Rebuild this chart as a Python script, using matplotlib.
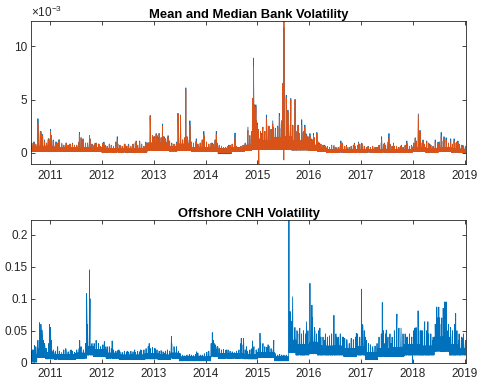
import matplotlib
matplotlib.use("Agg")
import matplotlib.pyplot as plt
import matplotlib.dates as mdates
import numpy as np
import pandas as pd

plt.rcParams["font.family"] = ["Liberation Sans", "DejaVu Sans"]

# ---------------------------------------------------------------- data
start_date = "2010-08-20"
end_date = "2019-01-11"

# Bank volatility (units of 1e-3): daily band (low / high) by period
bank_band_start = ["2010-08-01", "2011-02-01", "2011-07-01", "2011-10-01", "2012-01-01",
                   "2012-11-15", "2013-04-20", "2013-06-15", "2013-09-20", "2014-01-01",
                   "2014-04-01", "2014-07-01", "2014-10-01", "2014-11-20", "2015-01-15",
                   "2015-05-01", "2015-07-01", "2015-09-01", "2016-01-01", "2016-03-01",
                   "2016-05-01", "2018-01-01", "2018-04-01", "2018-07-01", "2018-10-01",
                   "2018-12-01"]
bank_median_lo = [0.10, 0.10, 0.10, 0.10, 0.05, 0.20, 0.15, 0.20, 0.10, 0.10,
                  0.00, 0.10, 0.20, 0.30, 0.30, 0.30, 0.30, 0.25, 0.20, 0.10,
                  0.05, 0.10, 0.05, 0.10, 0.05, 0.00]
bank_mean_lo = [0.10, 0.10, 0.10, 0.10, 0.05, 0.20, 0.15, 0.20, 0.10, 0.10,
                -0.10, 0.10, 0.20, 0.30, 0.30, 0.30, 0.30, 0.25, 0.20, 0.10,
                0.05, 0.10, 0.05, 0.10, 0.05, 0.00]
bank_band_hi = [0.60, 0.45, 0.50, 0.45, 0.40, 0.90, 0.55, 0.80, 0.50, 0.45,
                0.35, 0.45, 0.70, 1.30, 1.10, 1.40, 1.50, 1.10, 0.70, 0.45,
                0.30, 0.45, 0.35, 0.45, 0.35, 0.30]

# Bank volatility: highest value in each half-month (Aug 2010 .. Jan 2019)
bank_halfmonth_peak = [
    0.0, 0.9, 1.0, 0.8, 1.5, 2.0, 1.4, 1.1, 0.9, 1.3,
    1.6, 1.2, 1.0, 0.9, 1.2, 0.8, 0.7, 0.9, 0.7, 0.8, 0.9, 0.7,
    0.7, 1.0, 1.4, 1.2, 0.9, 0.9, 1.3, 0.8, 0.7, 0.9, 0.8, 0.6,
    0.9, 0.7, 0.6, 0.8, 0.7, 0.6, 1.0, 0.8, 0.7, 0.6, 0.8, 0.6,
    0.7, 0.6, 0.8, 0.9, 0.7, 0.6, 0.8, 0.6, 0.9, 0.8, 1.5, 1.6,
    1.5, 1.6, 1.8, 1.4, 1.5, 1.3, 1.4, 1.1, 0.9, 0.8, 0.9, 1.6,
    1.8, 1.2, 1.4, 1.5, 1.2, 1.0, 0.9, 1.0, 0.8, 0.9, 1.2, 1.5,
    1.0, 0.8, 0.9, 0.8, 1.2, 0.9, 0.7, 0.6, 0.5, 0.5, 0.6, 0.7,
    0.8, 0.9, 0.6, 0.5, 0.6, 0.7, 0.9, 1.2, 1.6, 2.0, 2.6, 3.0,
    2.2, 2.0, 2.4, 2.0, 2.3, 2.5, 2.2, 2.4, 2.5, 2.8, 2.6, 3.0,
    3.5, 3.0, 2.6, 3.0, 2.2, 2.4, 2.0, 1.8, 1.6, 2.0, 1.8, 1.5,
    1.5, 1.2, 1.4, 1.6, 1.0, 0.8, 0.7, 0.6, 0.6, 0.5, 0.7, 0.6,
    0.5, 0.5, 0.6, 0.9, 0.6, 0.5, 0.5, 0.6, 0.7, 0.6, 0.7, 0.8,
    0.8, 0.6, 0.5, 0.5, 0.5, 0.6, 0.5, 0.5, 0.7, 0.9, 0.8, 0.7,
    1.0, 0.8, 0.6, 0.6, 0.6, 0.5, 0.6, 0.5, 0.7, 0.8, 0.6, 0.6,
    0.9, 1.1, 1.5, 1.0, 0.9, 0.8, 0.8, 0.9, 0.7, 0.6, 0.9, 0.8,
    1.0, 1.1, 1.2, 1.0, 0.9, 0.8, 0.8, 0.9, 1.0, 0.8, 0.7, 0.6,
    0.6,
]

# Bank volatility spikes: date, mean, median (units of 1e-3)
bank_spike_dates = [
    "2010-09-13", "2010-10-08", "2010-10-29", "2010-11-10", "2010-11-24", "2010-12-20",
    "2011-01-05", "2011-01-24", "2011-02-14", "2011-03-03", "2011-03-25", "2011-04-28",
    "2011-05-20", "2011-06-08", "2011-07-27", "2011-08-09", "2011-08-22", "2011-10-06",
    "2011-11-15", "2011-12-12", "2012-01-16", "2012-02-24", "2012-04-19", "2012-06-12",
    "2012-07-06", "2012-08-30", "2012-09-24", "2012-11-06", "2012-12-07", "2013-01-02",
    "2013-01-18", "2013-02-01", "2013-03-04", "2013-03-15", "2013-04-12", "2013-05-08",
    "2013-06-10", "2013-06-21", "2013-07-09", "2013-08-15", "2013-09-13", "2013-10-28",
    "2013-12-20", "2014-02-18", "2014-03-18", "2014-06-13", "2014-07-28", "2014-10-27",
    "2014-11-07", "2014-11-28", "2014-12-05", "2014-12-12", "2014-12-22", "2015-01-02",
    "2015-01-12", "2015-01-29", "2015-02-06", "2015-03-06", "2015-03-20", "2015-04-20",
    "2015-05-08", "2015-05-25", "2015-06-05", "2015-06-19", "2015-06-29", "2015-07-07",
    "2015-07-08", "2015-07-24", "2015-08-05", "2015-08-25", "2015-09-08", "2015-09-24",
    "2015-10-15", "2015-10-26", "2015-11-10", "2015-11-20", "2015-12-02", "2015-12-15",
    "2016-01-07", "2016-01-15", "2016-02-01", "2016-02-25", "2016-03-15", "2016-04-20",
    "2016-06-24", "2016-08-12", "2016-09-20", "2016-11-15", "2016-12-15", "2017-01-06",
    "2017-02-20", "2017-04-20", "2017-05-26", "2017-06-16", "2017-07-17", "2017-08-18",
    "2017-10-12", "2017-11-20", "2017-12-22", "2018-01-18", "2018-02-09", "2018-02-21",
    "2018-03-14", "2018-04-09", "2018-05-01", "2018-06-08", "2018-06-28", "2018-07-20",
    "2018-08-09", "2018-08-24", "2018-09-25", "2018-10-19", "2018-11-15", "2018-12-20",
]
bank_spike_mean = [
    1.0, 3.2, 2.0, 1.7, 1.2, 1.3,
    2.2, 1.2, 1.0, 1.2, 0.9, 0.9,
    0.8, 0.9, 1.9, 1.4, 1.3, 1.6,
    0.9, 0.8, 1.0, 0.8, 1.5, 0.8,
    0.8, 1.1, 1.1, 1.0, 3.5, 1.5,
    1.8, 1.4, 2.7, 1.5, 1.6, 0.9,
    1.0, 3.7, 3.55, 6.1, 3.0, 1.3,
    2.0, 0.9, 2.0, 0.7, 1.85, 2.4,
    1.5, 5.1, 8.9, 4.5, 4.5, 2.8,
    1.0, 1.8, 2.0, 3.55, 2.2, 3.0,
    2.3, 2.5, 3.7, 2.3, 6.5, 0.6,
    11.8, 5.4, 4.0, 5.1, 2.6, 5.0,
    2.6, 1.8, 3.1, 1.9, 2.6, 1.7,
    1.8, 1.3, 1.8, 1.9, 0.9, 0.7,
    0.7, 1.1, 0.7, 0.9, 1.0, 0.9,
    0.6, 0.5, 1.5, 0.9, 1.8, 0.9,
    0.7, 1.1, 0.7, 1.4, 3.65, 2.1,
    1.2, 1.1, 0.8, 1.2, 1.0, 1.9,
    1.5, 1.4, 1.3, 1.3, 1.1, 0.7,
]
bank_spike_median = [
    0.9, 2.8, 1.8, 1.6, 1.1, 1.2,
    2.0, 1.1, 0.9, 1.1, 0.8, 0.8,
    0.8, 0.8, 1.7, 1.3, 1.2, 1.5,
    0.8, 0.8, 0.9, 0.7, 1.2, 0.7,
    0.7, 1.0, 1.0, 0.9, 3.4, 1.4,
    1.7, 1.3, 2.5, 1.4, 1.5, 0.8,
    0.9, 3.7, 3.5, 6.0, 2.6, 1.1,
    1.7, 0.8, 1.7, 0.6, 1.35, 2.1,
    1.4, 5.1, 8.1, 4.5, 4.3, 2.6,
    -1.07, 1.7, 1.8, 3.2, 2.0, 2.7,
    2.2, 2.4, 3.4, 2.2, 6.5, -0.69,
    12.4, 5.2, 3.8, 5.0, 2.5, 5.0,
    2.5, 1.7, 2.6, 1.8, 2.4, 1.6,
    1.6, 1.2, 1.6, 1.8, 0.8, 0.6,
    0.6, 0.9, 0.6, 0.8, 0.9, 0.8,
    0.55, 0.5, 1.2, 0.8, 1.35, 0.8,
    0.6, 0.9, 0.6, 1.3, 3.55, 2.0,
    1.1, 1.0, 0.7, 1.0, 0.9, 1.5,
    1.3, 1.2, 1.1, 1.1, 0.9, 0.6,
]

# Offshore CNH volatility: daily band (low / high) by period
cnh_band_start = ["2010-08-01", "2010-10-01", "2010-12-01", "2011-02-01", "2011-07-01",
                  "2011-09-15", "2011-11-01", "2012-02-01", "2012-05-01", "2012-11-01",
                  "2013-02-01", "2013-05-01", "2013-07-01", "2014-02-10", "2014-04-01",
                  "2014-10-01", "2015-01-01", "2015-05-01", "2015-08-11", "2015-10-01",
                  "2016-01-01", "2016-03-01", "2016-09-01", "2016-12-01", "2017-02-01",
                  "2017-05-01", "2017-08-01", "2017-11-01", "2018-03-01", "2018-06-01",
                  "2018-09-15", "2018-11-15"]
cnh_band_lo = [0.001, 0.008, 0.006, 0.005, 0.007, 0.012, 0.010, 0.007, 0.005, 0.006,
               0.005, 0.007, 0.003, 0.010, 0.007, 0.006, 0.008, 0.003, 0.016, 0.012,
               0.014, 0.012, 0.010, 0.012, 0.005, 0.010, 0.010, 0.012, 0.012, 0.018,
               0.012, 0.012]
cnh_band_hi = [0.012, 0.022, 0.016, 0.013, 0.015, 0.025, 0.020, 0.015, 0.012, 0.014,
               0.012, 0.015, 0.009, 0.020, 0.014, 0.013, 0.016, 0.009, 0.035, 0.028,
               0.032, 0.026, 0.022, 0.025, 0.016, 0.022, 0.024, 0.028, 0.026, 0.040,
               0.028, 0.022]

# CNH volatility: highest value in each half-month (Aug 2010 .. Jan 2019)
cnh_halfmonth_peak = [
    0.0, 0.018, 0.020, 0.025, 0.035, 0.050, 0.040, 0.030, 0.022, 0.030,
    0.035, 0.020, 0.018, 0.020, 0.018, 0.016, 0.020, 0.018, 0.017, 0.019, 0.018, 0.016,
    0.020, 0.022, 0.025, 0.020, 0.030, 0.045, 0.040, 0.030, 0.030, 0.028, 0.030, 0.025,
    0.028, 0.025, 0.022, 0.025, 0.022, 0.020, 0.018, 0.019, 0.017, 0.016, 0.018, 0.017,
    0.016, 0.018, 0.017, 0.016, 0.018, 0.017, 0.019, 0.020, 0.022, 0.025, 0.022, 0.024,
    0.022, 0.020, 0.018, 0.019, 0.017, 0.018, 0.020, 0.018, 0.030, 0.025, 0.022, 0.018,
    0.014, 0.012, 0.011, 0.012, 0.013, 0.012, 0.011, 0.013, 0.015, 0.012, 0.012, 0.014,
    0.016, 0.018, 0.030, 0.035, 0.028, 0.025, 0.022, 0.020, 0.021, 0.019, 0.020, 0.018,
    0.017, 0.016, 0.018, 0.020, 0.030, 0.028, 0.020, 0.018, 0.020, 0.022, 0.025, 0.020,
    0.022, 0.030, 0.028, 0.025, 0.024, 0.026, 0.022, 0.020, 0.014, 0.012, 0.013, 0.012,
    0.012, 0.012, 0.011, 0.060, 0.060, 0.055, 0.050, 0.045, 0.045, 0.050, 0.045, 0.050,
    0.060, 0.070, 0.055, 0.045, 0.050, 0.040, 0.040, 0.045, 0.040, 0.042, 0.045, 0.050,
    0.045, 0.040, 0.045, 0.040, 0.038, 0.036, 0.035, 0.038, 0.036, 0.040, 0.045, 0.040,
    0.060, 0.050, 0.035, 0.030, 0.028, 0.025, 0.026, 0.030, 0.040, 0.045, 0.050, 0.045,
    0.040, 0.045, 0.040, 0.050, 0.050, 0.045, 0.050, 0.045, 0.045, 0.040, 0.045, 0.040,
    0.050, 0.055, 0.060, 0.050, 0.050, 0.055, 0.050, 0.045, 0.045, 0.040, 0.060, 0.070,
    0.070, 0.070, 0.075, 0.070, 0.060, 0.055, 0.050, 0.060, 0.050, 0.045, 0.040, 0.045,
    0.035,
]

cnh_spike_dates = [
    "2010-08-30", "2010-09-14", "2010-10-07", "2010-10-19", "2010-10-29", "2010-11-05",
    "2010-11-15", "2010-11-25", "2010-12-28", "2011-01-05", "2011-01-20", "2011-02-24",
    "2011-04-22", "2011-05-30", "2011-07-29", "2011-09-16", "2011-09-19", "2011-09-21",
    "2011-10-06", "2011-10-10", "2011-11-01", "2011-11-22", "2011-12-08", "2012-01-19",
    "2012-02-07", "2012-03-14", "2012-05-01", "2012-07-02", "2012-08-20", "2012-10-01",
    "2012-11-30", "2013-01-10", "2013-03-15", "2013-05-06", "2013-05-24", "2013-06-10",
    "2013-10-31", "2014-01-20", "2014-02-18", "2014-03-03", "2014-03-28", "2014-05-27",
    "2014-09-10", "2014-09-26", "2014-10-16", "2014-11-28", "2015-01-20", "2015-02-10",
    "2015-03-18", "2015-04-27", "2015-08-12", "2015-08-20", "2015-08-27", "2015-09-07",
    "2015-09-21", "2015-10-27", "2015-12-14", "2016-01-07", "2016-01-21", "2016-02-10",
    "2016-03-17", "2016-04-20", "2016-06-24", "2016-07-15", "2016-08-30", "2016-10-10",
    "2016-11-29", "2017-01-04", "2017-01-13", "2017-02-01", "2017-05-31", "2017-06-13",
    "2017-06-28", "2017-08-01", "2017-09-11", "2017-09-25", "2017-10-10", "2017-11-20",
    "2017-12-29", "2018-01-15", "2018-02-07", "2018-02-28", "2018-03-26", "2018-04-17",
    "2018-05-21", "2018-06-19", "2018-07-03", "2018-07-20", "2018-08-03", "2018-08-15",
    "2018-08-24", "2018-09-05", "2018-10-05", "2018-10-30", "2018-11-20", "2018-12-20",
]
cnh_spike_vals = [
    0.020, 0.027, 0.033, 0.0625, 0.060, 0.051,
    0.035, 0.027, 0.060, 0.055, 0.017, 0.025,
    0.022, 0.020, 0.035, 0.108, 0.064, 0.060,
    0.145, 0.100, 0.025, 0.035, 0.030, 0.033,
    0.025, 0.034, 0.020, 0.018, 0.020, 0.020,
    0.030, 0.022, 0.015, 0.041, 0.025, 0.025,
    0.017, 0.017, 0.047, 0.030, 0.025, 0.020,
    0.038, 0.038, 0.025, 0.034, 0.046, 0.030,
    0.028, 0.035, 0.223, 0.080, 0.065, 0.103,
    0.040, 0.054, 0.064, 0.124, 0.090, 0.050,
    0.054, 0.035, 0.074, 0.040, 0.040, 0.030,
    0.046, 0.115, 0.059, 0.040, 0.094, 0.030,
    0.051, 0.030, 0.076, 0.054, 0.054, 0.040,
    0.000, 0.054, 0.081, 0.050, 0.064, 0.064,
    0.035, 0.087, 0.087, 0.060, 0.085, 0.095,
    0.095, 0.050, 0.040, 0.077, 0.035, 0.039,
]

year_ticks = [2011, 2012, 2013, 2014, 2015, 2016, 2017, 2018, 2019]
bank_yticks = [0, 5, 10]
cnh_yticks = [0, 0.05, 0.1, 0.15, 0.2]
cnh_yticklabels = ["0", "0.05", "0.1", "0.15", "0.2"]


# ---------------------------------------------------------------- series
def daily_series(dates, band_start, band_lo, band_hi, halfmonth_peak,
                 spike_dates, spike_vals):
    """Business-day series swinging inside a band, with half-month highs and spikes."""
    idx = np.searchsorted(pd.to_datetime(band_start).values, dates.values, side="right") - 1
    lo = np.asarray(band_lo, dtype=float)[idx]
    hi = np.asarray(band_hi, dtype=float)[idx]
    vals = np.where(np.arange(len(dates)) % 2 == 0, lo, hi)

    # half-month bins counted from the first half of August 2010
    hm = ((dates.year - 2010) * 24 + (dates.month - 1) * 2
          + (dates.day >= 16).astype(int) - 14)
    hm = np.asarray(hm)
    for b in np.unique(hm):
        days = np.where(hm == b)[0]
        vals[days[len(days) // 2]] = halfmonth_peak[b]

    pos = dates.get_indexer(pd.to_datetime(spike_dates), method="nearest")
    vals[pos] = spike_vals
    return vals


dates = pd.bdate_range(start_date, end_date)
bank_mean = daily_series(dates, bank_band_start, bank_mean_lo, bank_band_hi,
                         bank_halfmonth_peak, bank_spike_dates, bank_spike_mean)
bank_median = daily_series(dates, bank_band_start, bank_median_lo, bank_band_hi,
                           bank_halfmonth_peak, bank_spike_dates, bank_spike_median)
cnh_vol = daily_series(dates, cnh_band_start, cnh_band_lo, cnh_band_hi,
                       cnh_halfmonth_peak, cnh_spike_dates, cnh_spike_vals)

# ---------------------------------------------------------------- figure
BLUE = "#0072BD"
ORANGE = "#D95319"
AXC = "#262626"

fig = plt.figure(figsize=(4.79, 3.86), dpi=100)
ax1 = fig.add_axes([0.0647, 0.5751, 0.9082, 0.3705])
ax2 = fig.add_axes([0.0647, 0.0604, 0.9082, 0.3697])


def style(ax):
    for sp in ax.spines.values():
        sp.set_color(AXC)
        sp.set_linewidth(0.6)
    ax.tick_params(direction="in", top=True, right=True, length=3.2, width=0.6,
                   colors=AXC, labelsize=8.5)
    ax.tick_params(axis="x", pad=4)
    ax.tick_params(axis="y", pad=2.5)
    ax.set_xticks([mdates.date2num(pd.Timestamp(f"{y}-01-01")) for y in year_ticks])
    ax.set_xticklabels([str(y) for y in year_ticks])
    ax.set_xlim(dates[0], dates[-1])


ax1.plot(dates, bank_mean, color=BLUE, lw=0.6)
ax1.plot(dates, bank_median, color=ORANGE, lw=0.6)
style(ax1)
ax1.set_ylim(-1.07, 12.4)
ax1.set_yticks(bank_yticks)
ax1.set_yticklabels([str(v) for v in bank_yticks])
ax1.set_title("Mean and Median Bank Volatility", fontsize=9.4, fontweight="bold", pad=2.5)
ax1.text(0.0, 1.005, "×10$^{\\mathregular{-3}}$", transform=ax1.transAxes,
         ha="left", va="bottom", fontsize=8.5, color=AXC)

ax2.plot(dates, cnh_vol, color=BLUE, lw=0.6)
style(ax2)
ax2.set_ylim(0, 0.223)
ax2.set_yticks(cnh_yticks)
ax2.set_yticklabels(cnh_yticklabels)
ax2.set_title("Offshore CNH Volatility", fontsize=9.4, fontweight="bold", pad=2.5)

fig.savefig("out.png", dpi=100)
